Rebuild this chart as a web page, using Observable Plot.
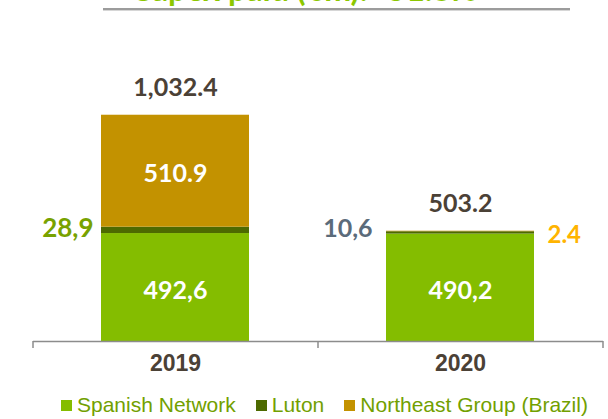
<!DOCTYPE html>
<html><head><meta charset="utf-8">
<script src="https://cdn.jsdelivr.net/npm/d3@7"></script>
<script src="https://cdn.jsdelivr.net/npm/@observablehq/plot@0.6"></script>
<style>
body{margin:0;background:#fff;}
#wrap{position:relative;width:608px;height:419px;overflow:hidden;background:#fff;}
#wrap svg{position:absolute;left:0;top:0;}
#title{position:absolute;left:0;width:608px;text-align:center;font-family:Lato,sans-serif;font-weight:bold;color:#8cc700;white-space:nowrap;line-height:1.2;}
#rule{position:absolute;left:103px;width:467px;top:8px;height:2px;background:#9c9c9c;box-shadow:0 1px 0 #d6d6d6;}
#legend{position:absolute;left:61px;top:393px;height:24px;display:flex;align-items:center;font-family:"Liberation Sans",Arial,sans-serif;font-size:21px;color:#72a000;white-space:nowrap;}
#legend .item{display:flex;align-items:center;margin-right:20px;line-height:24px;}
#legend .sw{width:11px;height:11px;margin-right:5px;}
</style></head>
<body><div id="wrap"></div>
<script>
const title = "Capex paid (€m): -51.3%";
const years = ["2019", "2020"];
const series = ["Spanish Network", "Luton", "Northeast Group (Brazil)"];
const colors = ["#84bd00", "#4d6a00", "#c39200"];
const spanish = [492.6, 490.2];
const luton = [28.9, 10.6];
const northeast = [510.9, 2.4];
const spanishLabels = ["492,6", "490,2"];
const lutonLabels = ["28,9", "10,6"];
const northeastLabels = ["510.9", "2.4"];
const totalLabels = ["1,032.4", "503.2"];

const valueSets = [spanish, luton, northeast];
const labelSets = [spanishLabels, lutonLabels, northeastLabels];
const rows = [];
years.forEach((year, i) => {
  series.forEach((s, j) => {
    rows.push({year, series: s, value: valueSets[j][i], label: labelSets[j][i], yi: i, si: j});
  });
});
const totals = years.map((year, i) => ({year, total: d3.sum(valueSets, v => v[i]), label: totalLabels[i]}));

const isInner = d => (d.si === 0) || (d.si === 2 && d.yi === 0);
const labelFont = {fontFamily: "Lato", fontWeight: "bold"};

const tickMark = (index, scales, values, dims) => {
  const y0 = scales.y(0);
  const x0 = dims.marginLeft, x1 = dims.width - dims.marginRight;
  const step = (x1 - x0) / years.length;
  const g = d3.create("svg:g").attr("stroke", "#8c8c8c").attr("stroke-width", 1.5);
  d3.range(years.length + 1).forEach(i => {
    g.append("line").attr("x1", x0 + i * step).attr("x2", x0 + i * step).attr("y1", y0).attr("y2", y0 + 7);
  });
  return g.node();
};

const chart = Plot.plot({
  width: 608,
  height: 385,
  marginLeft: 33,
  marginRight: 5,
  marginTop: 78,
  marginBottom: 44,
  x: {domain: years, paddingInner: 0.48, paddingOuter: 0.24, axis: null},
  y: {domain: [0, 1200], axis: null},
  color: {domain: series, range: colors},
  marks: [
    Plot.barY(rows, {x: "year", y: "value", fill: "series"}),
    Plot.ruleY([0], {stroke: "#8c8c8c", strokeWidth: 1.5}),
    tickMark,
    Plot.text(rows, Plot.stackY({x: "year", y: "value", text: d => isInner(d) ? d.label : null, fill: "white", fontSize: 25, dy: 3, ...labelFont})),
    Plot.text(rows, Plot.stackY({x: "year", y: "value", text: d => (d.si === 1 && d.yi === 0) ? d.label : null, textAnchor: "end", dx: -82, dy: -2, fill: "#78a200", fontSize: 26, ...labelFont})),
    Plot.text(rows, Plot.stackY({x: "year", y: "value", text: d => (d.si === 1 && d.yi === 1) ? d.label : null, textAnchor: "end", dx: -88, dy: -4, fill: "#5b6b7a", fontSize: 25, ...labelFont})),
    Plot.text(rows, Plot.stackY({x: "year", y: "value", text: d => (d.si === 2 && d.yi === 1) ? d.label : null, textAnchor: "start", dx: 87, dy: 4, fill: "#ffb400", fontSize: 24, ...labelFont})),
    Plot.text(totals, {x: "year", y: "total", text: "label", dy: -27, fill: "#4b4136", fontSize: 25, ...labelFont}),
    Plot.text(years, {x: d => d, frameAnchor: "bottom", text: d => d, dy: 29, fill: "#4b4136", fontSize: 23, fontWeight: "bold", fontFamily: "Liberation Sans"})
  ]
});

const wrap = document.getElementById("wrap");
wrap.appendChild(chart);

// title (cropped at the top, as in the reference)
const t = document.createElement("div");
t.id = "title";
const span = document.createElement("span");
span.textContent = title;
t.appendChild(span);
wrap.appendChild(t);
let fs = 26;
t.style.fontSize = fs + "px";
const w = span.getBoundingClientRect().width;
fs = fs * 347 / w;
t.style.fontSize = fs + "px";
t.style.top = (2 - 0.987 * fs) + "px";

const rule = document.createElement("div");
rule.id = "rule";
wrap.appendChild(rule);

// legend
const lg = document.createElement("div");
lg.id = "legend";
series.forEach((s, i) => {
  const it = document.createElement("div");
  it.className = "item";
  const sw = document.createElement("div");
  sw.className = "sw";
  sw.style.background = colors[i];
  const tx = document.createElement("span");
  tx.textContent = s;
  it.appendChild(sw);
  it.appendChild(tx);
  lg.appendChild(it);
});
wrap.appendChild(lg);
</script>
</body></html>
